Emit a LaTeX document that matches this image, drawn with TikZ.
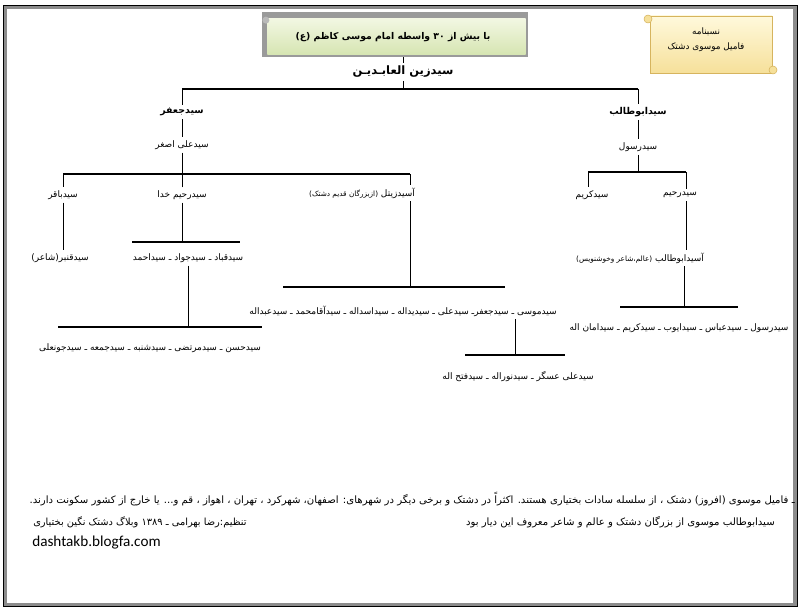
\documentclass[tikz,border=0pt]{standalone}
\usepackage{fontspec}
\setmainfont{DejaVu Sans}
\newfontfamily\pfont[Script=Arabic]{DejaVu Sans}
\newfontfamily\webfont{Carlito}
\TeXXeTstate=1
\definecolor{frameg}{HTML}{8C8C8C}
\definecolor{titleA}{HTML}{F2F7E2}
\definecolor{titleB}{HTML}{D6E5B2}
\definecolor{titleedge}{HTML}{9A9A9A}
\definecolor{scrollA}{HTML}{FFF9DC}
\definecolor{scrollB}{HTML}{F6E09A}
\definecolor{scrolledge}{HTML}{D6B45E}

\begin{document}
\begin{tikzpicture}[x=0.025cm,y=-0.025cm,
  elder/.style={font=\pfont\bfseries\fontsize{6.7}{8}\selectfont,inner sep=2pt},
  kin/.style={font=\pfont\fontsize{6.4}{7.5}\selectfont,inner sep=2pt},
  note/.style={font=\pfont\fontsize{7.2}{8.5}\selectfont,inner sep=0pt},
  conn/.style={line width=0.6pt},
  bar/.style={line width=0.9pt}]
\useasboundingbox (0,0) rectangle (802,611);

% frame
\draw[frameg,line width=2.6pt] (5.5,7.5) rectangle (795,604.5);
\draw[line width=0.7pt] (3.5,5) rectangle (797.5,606.5);

% title scroll
\node[minimum width=6.65cm,minimum height=1.125cm,inner sep=0pt] (title) at (395,34.5) {};
\fill[titleedge] (title.north west) rectangle (title.south east);
\shade[top color=titleA,bottom color=titleB] ([xshift=4pt,yshift=-5pt]title.north west) rectangle ([xshift=-2pt,yshift=2pt]title.south east);
\fill[gray!55] ([xshift=3pt,yshift=-6pt]title.north west) circle (3.5);
\node[font=\pfont\bfseries\fontsize{6.6}{8}\selectfont] (titletext) at (393,37) {\beginR با بیش از ۳۰ واسطه امام موسی کاظم (ع)\endR};

% note scroll
\shade[top color=scrollA,bottom color=scrollB,draw=scrolledge] (650,16) -- (772,16) -- (772,73) -- (650,73) -- cycle;
\filldraw[fill=scrollB,draw=scrolledge] (648,19) circle (4);
\filldraw[fill=scrollB,draw=scrolledge] (773,70) circle (4);
\node[font=\pfont\fontsize{6.3}{10.5}\selectfont,align=center] (note) at (706,40) {\beginR نسبنامه\endR\\ \beginR فامیل موسوی دشتک\endR};

% root
\node[font=\pfont\bfseries\fontsize{8.2}{10}\selectfont,inner sep=2pt] (zain) at (403,72) {\beginR سیدزین العابـدیـن\endR};
\draw[conn] (title.south -| zain) -- (zain.north);
\coordinate (b0l) at (182,89);
\coordinate (b0r) at (638,89);
\draw[bar] (b0l) -- (b0r);
\draw[conn] (zain.south) -- (zain.south |- b0l);

% left branch
\node[elder] (jafar) at (182,112) {\beginR سیدجعفر\endR};
\node[kin] (asghar) at (182,145) {\beginR سیدعلی اصغر\endR};
\draw[conn] (b0l) -- (jafar.north);
\draw[conn] (jafar.south) -- (asghar.north);
\coordinate (b1l) at (63,174);
\coordinate (b1r) at (410,174);
\draw[bar] (b1l) -- (b1r);
\draw[conn] (asghar.south) -- (asghar.south |- b1l);

\node[kin] (baqer) at (63,195) {\beginR سیدباقر\endR};
\node[kin] (rahimkhoda) at (182,195) {\beginR سیدرحیم خدا\endR};
\node[kin] (zital) at (362,193) {\beginR آسیدزیتل {\fontsize{5.2}{6}\selectfont(ازبزرگان قدیم دشتک)}\endR};
\draw[conn] (b1l) -- (baqer.north);
\draw[conn] (rahimkhoda.north) -- (rahimkhoda.north |- b1l);
\draw[conn] (b1r) -- (zital.north -| b1r);

\node[kin] (qanbar) at (60,258) {\beginR سیدقنبر(شاعر)\endR};
\draw[conn] (baqer.south) -- (baqer.south |- qanbar.north);

\coordinate (b2l) at (132,242);
\coordinate (b2r) at (240,242);
\draw[bar] (b2l) -- (b2r);
\draw[conn] (rahimkhoda.south) -- (rahimkhoda.south |- b2l);
\node[kin] (qobad) at (188,258) {\beginR سیدقباد ـ سیدجواد ـ سیداحمد\endR};
\coordinate (b3l) at (58,327);
\coordinate (b3r) at (262,327);
\draw[bar] (b3l) -- (b3r);
\draw[conn] (qobad.south) -- (qobad.south |- b3l);
\node[kin] (hasan) at (150,348) {\beginR سیدحسن ـ سیدمرتضی ـ سیدشنبه ـ سیدجمعه ـ سیدجونعلی\endR};

\coordinate (b4l) at (283,287);
\coordinate (b4r) at (505,287);
\draw[bar] (b4l) -- (b4r);
\draw[conn] (zital.south -| b1r) -- (b1r |- b4l);
\node[kin] (musa) at (403,311) {\beginR سیدموسی ـ سیدجعفرـ سیدعلی ـ سیدیداله ـ سیداسداله ـ سیدآقامحمد ـ سیدعبداله\endR};
\coordinate (b5l) at (465,355);
\coordinate (b5r) at (565,355);
\coordinate (m5) at (515,355);
\draw[bar] (b5l) -- (b5r);
\draw[conn] (musa.south -| m5) -- (m5);
\node[kin] (askar) at (518,377) {\beginR سیدعلی عسگر ـ سیدنوراله ـ سیدفتح اله\endR};

% right branch
\node[elder] (abutaleb) at (638,112) {\beginR سیدابوطالب\endR};
\node[kin] (rasul) at (638,147) {\beginR سیدرسول\endR};
\draw[conn] (b0r) -- (abutaleb.north);
\draw[conn] (abutaleb.south) -- (rasul.north);
\coordinate (b6l) at (588,172);
\coordinate (b6r) at (686,172);
\draw[bar] (b6l) -- (b6r);
\draw[conn] (rasul.south) -- (rasul.south |- b6l);
\node[kin] (karim) at (592,195) {\beginR سیدکریم\endR};
\node[kin] (rahim) at (680,195) {\beginR سیدرحیم\endR};
\draw[conn] (b6l) -- (karim.north -| b6l);
\draw[conn] (b6r) -- (rahim.north -| b6r);
\node[kin] (abutaleb2) at (640,258) {\beginR آسیدابوطالب {\fontsize{5.2}{6}\selectfont(عالم،شاعر وخوشنویس)}\endR};
\draw[conn] (rahim.south -| b6r) -- (abutaleb2.north -| b6r);
\coordinate (b7l) at (620,307);
\coordinate (b7r) at (738,307);
\coordinate (m7) at (684,307);
\draw[bar] (b7l) -- (b7r);
\draw[conn] (abutaleb2.south -| m7) -- (m7);
\node[kin] (rasul2) at (679,328) {\beginR سیدرسول ـ سیدعباس ـ سیدایوب ـ سیدکریم ـ سیدامان اله\endR};

% remarks
\node[note,anchor=east] (remark1) at (795,499) {\beginR ـ فامیل موسوی (افروز) دشتک ، از سلسله سادات بختیاری هستند. اکثراً در دشتک و برخی دیگر در شهرهای: اصفهان، شهرکرد ، تهران ، اهواز ، قم  و... یا خارج از کشور سکونت دارند.\endR};
\node[note,anchor=east] (remark2) at (775,522) {\beginR سیدابوطالب موسوی از بزرگان دشتک و عالم و شاعر معروف این دیار بود\endR};
\node[note,anchor=west,font=\pfont\fontsize{7}{8}\selectfont] (credit) at (33,522) {\beginR تنظیم:رضا بهرامی ـ ۱۳۸۹ وبلاگ دشتک نگین بختیاری\endR};
\node[anchor=west,inner sep=0pt,font=\webfont\fontsize{10.8}{13}\selectfont] (blog) at (32,543) {dashtakb.blogfa.com};
\end{tikzpicture}
\end{document}
